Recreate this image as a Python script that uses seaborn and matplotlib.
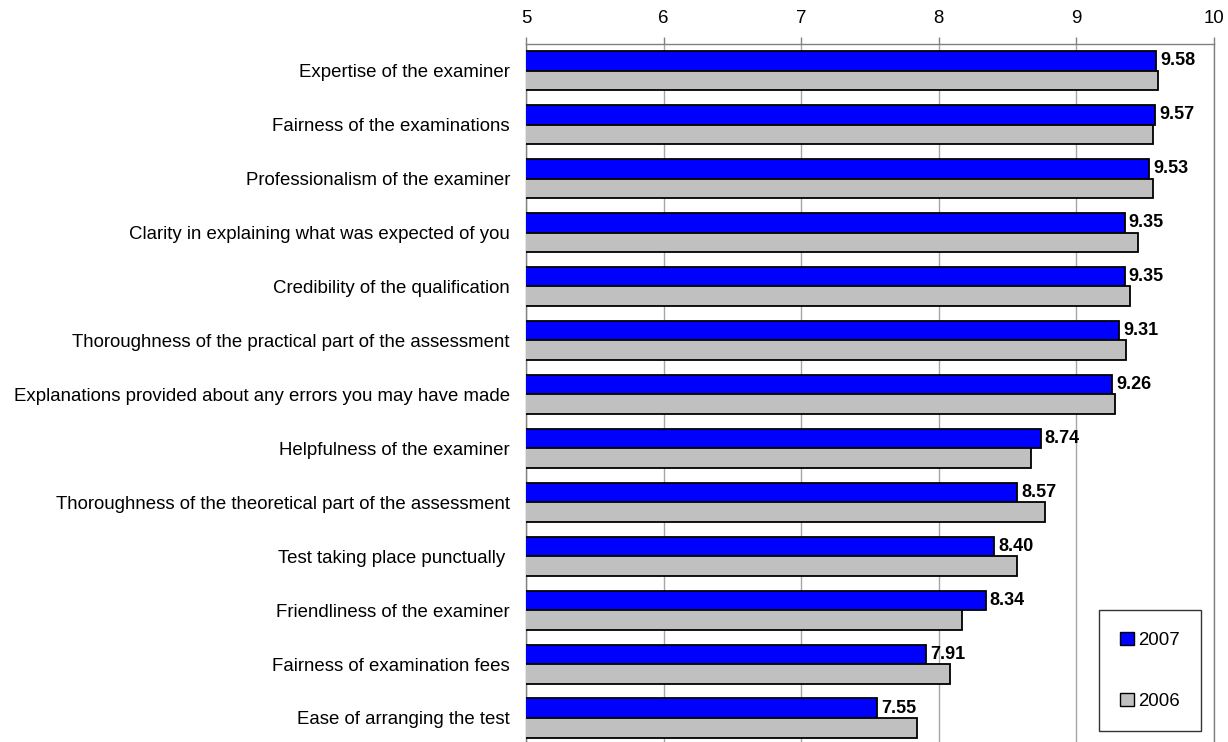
import matplotlib
matplotlib.use("Agg")
import matplotlib.pyplot as plt
import seaborn as sns
import pandas as pd
import numpy as np

categories = [
    "Expertise of the examiner",
    "Fairness of the examinations",
    "Professionalism of the examiner",
    "Clarity in explaining what was expected of you",
    "Credibility of the qualification",
    "Thoroughness of the practical part of the assessment",
    "Explanations provided about any errors you may have made",
    "Helpfulness of the examiner",
    "Thoroughness of the theoretical part of the assessment",
    "Test taking place punctually ",
    "Friendliness of the examiner",
    "Fairness of examination fees",
    "Ease of arranging the test",
]
values_2007 = [9.58, 9.57, 9.53, 9.35, 9.35, 9.31, 9.26, 8.74, 8.57, 8.40, 8.34, 7.91, 7.55]
values_2006 = [9.59, 9.56, 9.56, 9.45, 9.39, 9.36, 9.28, 8.67, 8.77, 8.57, 8.17, 8.08, 7.84]
years = ["2007", "2006"]
x_ticks = [5, 6, 7, 8, 9, 10]

df = pd.DataFrame({
    "category": categories * 2,
    "value": values_2007 + values_2006,
    "year": [years[0]] * len(categories) + [years[1]] * len(categories),
})

sns.set_style("white")
plt.rcParams["font.family"] = ["Liberation Sans", "DejaVu Sans"]
plt.rcParams["text.color"] = "black"
plt.rcParams["xtick.labelcolor"] = "black"
plt.rcParams["ytick.labelcolor"] = "black"
FS = 13.4
plt.rcParams["font.size"] = FS

fig = plt.figure(figsize=(12.28, 7.42), dpi=100)
ax = fig.add_axes([0.4283, -0.004, 0.5603, 0.945])

sns.barplot(data=df, x="value", y="category", hue="year", hue_order=years,
            order=categories, orient="h", palette={"2007": "#0000FF", "2006": "#C0C0C0"},
            width=0.725, edgecolor="black", linewidth=1.3, saturation=1, ax=ax, zorder=3)

ax.set_xlim(5, 10)
ax.set_ylim(len(categories) - 0.5, -0.5)
ax.set_xlabel("")
ax.set_ylabel("")

# x axis on top
ax.xaxis.tick_top()
ax.set_xticks(x_ticks)
ax.set_xticklabels([str(t) for t in x_ticks], fontsize=FS, color="black")
ax.tick_params(axis="x", which="major", direction="out", length=5, width=1,
               color="#808080", pad=7, top=True, bottom=False)

# y ticks: labels at centers, tick marks at boundaries
ax.set_yticks(np.arange(len(categories)))
ax.set_yticklabels(categories, fontsize=FS, color="black")
ax.tick_params(axis="y", which="major", length=0, pad=11.5)
ax.set_yticks(np.arange(len(categories) + 1) - 0.5, minor=True)
ax.tick_params(axis="y", which="minor", direction="out", length=6, width=1, color="#808080")

# gridlines
ax.grid(axis="x", color="#A6A6A6", linewidth=1, zorder=0)
ax.set_axisbelow(True)

for side in ["left", "top", "right"]:
    ax.spines[side].set_visible(True)
    ax.spines[side].set_color("#808080")
    ax.spines[side].set_linewidth(1)
ax.spines["bottom"].set_visible(False)

# value labels for 2007
bars_2007 = ax.containers[0]
ax.bar_label(bars_2007, labels=[f"{v:.2f}" for v in values_2007], padding=3,
             fontsize=13, fontweight="bold", color="black")

# legend
handles, labels = ax.get_legend_handles_labels()
if ax.get_legend() is not None:
    ax.get_legend().remove()
leg = ax.legend(handles, labels, loc="upper left", bbox_to_anchor=(0.833, 0.192),
                borderaxespad=0, frameon=True, fancybox=False, fontsize=FS,
                handlelength=0.7, handleheight=0.7, handletextpad=0.25,
                labelspacing=2.35, borderpad=1.15)
leg.get_frame().set_edgecolor("black")
leg.get_frame().set_linewidth(1)
for h in leg.legend_handles:
    h.set_edgecolor("black")
    h.set_linewidth(1)
for t in leg.get_texts():
    t.set_color("black")

fig.savefig("out.png", dpi=100)
